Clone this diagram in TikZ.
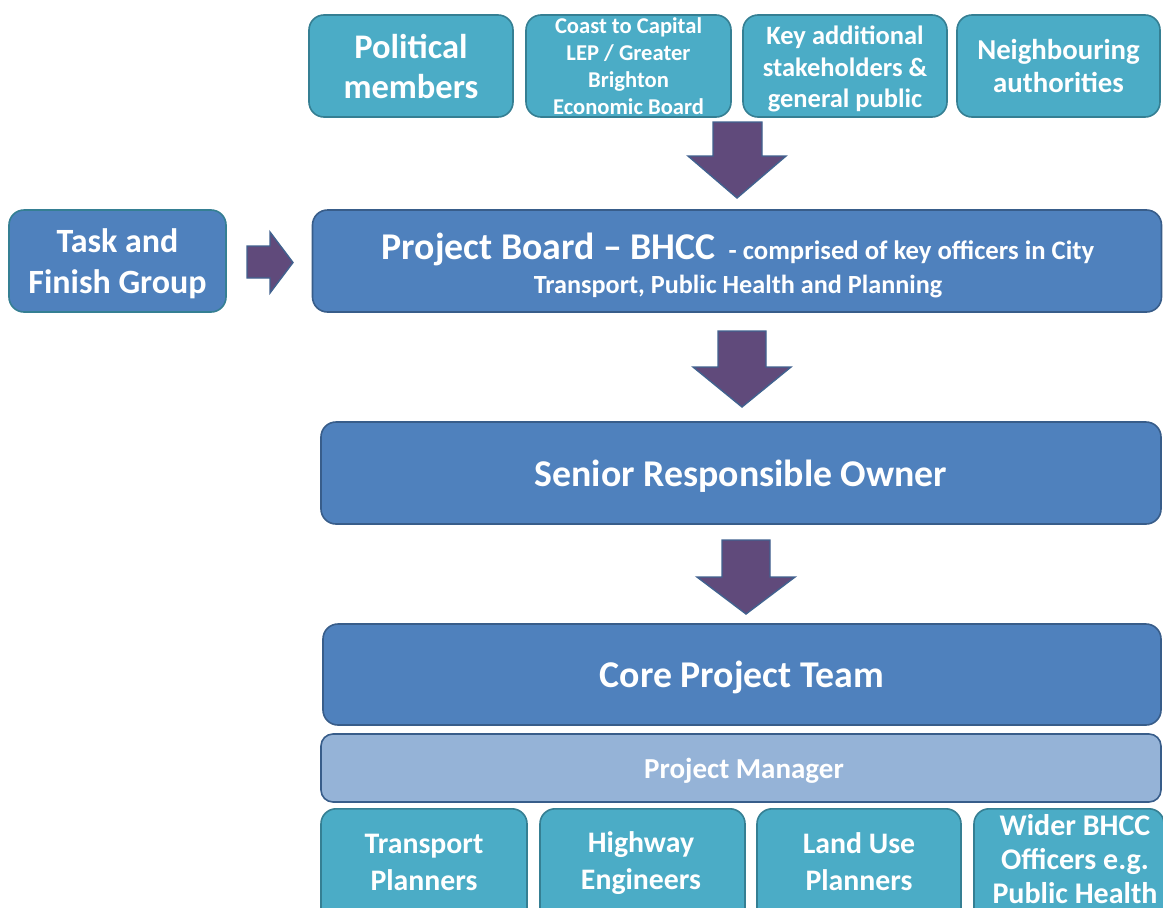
\documentclass[tikz,border=0pt]{standalone}
\usepackage{fontspec}
\setmainfont{Carlito}
\definecolor{tealfill}{HTML}{4BACC6}
\definecolor{tealdraw}{HTML}{357F93}
\definecolor{bluefill}{HTML}{4F81BD}
\definecolor{bluedraw}{HTML}{385D8A}
\definecolor{lightfill}{HTML}{95B3D7}
\definecolor{arrowfill}{HTML}{604A7B}
\definecolor{arrowdraw}{HTML}{41628F}
\newcommand{\fs}[2]{\fontsize{#1}{#2}\selectfont}
\tikzset{
  box/.style={rectangle, rounded corners=15pt, line width=1.6pt, text=white, align=center, inner sep=0pt, font=\bfseries},
  tealbox/.style={box, fill=tealfill, draw=tealdraw},
  bluebox/.style={box, fill=bluefill, draw=bluedraw},
  lightbox/.style={box, fill=lightfill, draw=bluedraw, rounded corners=12pt},
  label/.style={text=white, align=center, inner sep=0pt},
  blockarrow/.style={fill=arrowfill, draw=arrowdraw, line width=1.4pt, line join=miter},
}
\begin{document}
\begin{tikzpicture}[x=1pt,y=-1pt]
\path[use as bounding box, clip] (0,0) rectangle (1163,908);
\fill[white] (0,0) rectangle (1163,908);
% top row
\node[tealbox, minimum width=204pt, minimum height=102pt, font=\bfseries\fs{34.5}{40}] (pol) at (411,66) {Political\\members};
\node[tealbox, minimum width=205pt, minimum height=102pt, font=\bfseries\fs{22.6}{27}] (lep) at (628.5,66) {Coast to Capital\\LEP / Greater\\Brighton\\Economic Board};
\node[tealbox, minimum width=204pt, minimum height=102pt] (key) at (845,66) {};
\node[label, font=\bfseries\fs{26.5}{31.5}] (keyt) at (845,69) {Key additional\\stakeholders \&\\general public};
\node[tealbox, minimum width=203pt, minimum height=102pt, font=\bfseries\fs{28.8}{33}] (nei) at (1058.5,66) {Neighbouring\\authorities};
% left
\node[bluebox, draw=tealdraw, minimum width=217pt, minimum height=102pt] (task) at (117.5,261) {};
\node[label, font=\bfseries\fs{34}{41}] (taskt) at (117.5,264) {Task and\\Finish Group};
% project board
\node[bluebox, minimum width=849pt, minimum height=102pt] (board) at (737,261) {};
\node[label, anchor=base, font=\bfseries] (boardl1) at (738,259) {{\fs{37.8}{40}Project Board -- BHCC}\hspace{13pt}{\fs{26.7}{30}- comprised of key officers in City}};
\node[label, anchor=base, font=\bfseries\fs{26.2}{30}] (boardl2) at (738,293) {Transport, Public Health and Planning};
% senior
\node[bluebox, minimum width=840pt, minimum height=102pt] (sro) at (741,473) {};
\node[label, font=\bfseries\fs{37.8}{42}] (srot) at (741,476) {Senior Responsible Owner};
% core
\node[bluebox, minimum width=838pt, minimum height=101pt] (core) at (742,674.5) {};
\node[label, font=\bfseries\fs{37.8}{42}] (coret) at (742,677.5) {Core Project Team};
% project manager
\node[lightbox, minimum width=840pt, minimum height=68pt] (pm) at (741,768) {};
\node[label, font=\bfseries\fs{29}{34}] (pmt) at (744,771) {Project Manager};
% bottom row
\node[tealbox, minimum width=206pt, minimum height=118pt, anchor=north] (tp) at (424,808) {};
\node[label, font=\bfseries\fs{29.8}{37}] (tpt) at (424,862) {Transport\\Planners};
\node[tealbox, minimum width=205pt, minimum height=118pt, anchor=north] (he) at (642.5,808) {};
\node[label, font=\bfseries\fs{29.8}{37}] (het) at (641,863) {Highway\\Engineers};
\node[tealbox, minimum width=204pt, minimum height=118pt, anchor=north] (lu) at (859,808) {};
\node[label, font=\bfseries\fs{29.8}{37}] (lut) at (859,862) {Land Use\\Planners};
\node[tealbox, minimum width=190pt, minimum height=118pt, anchor=north] (wb) at (1069,808) {};
\node[label, font=\bfseries\fs{30}{34}] (wbt) at (1075,859) {Wider BHCC\\Officers e.g.\\Public Health};
% arrows
\draw[blockarrow] (713,122) -- (762,122) -- (762,156) -- (786,156) -- (737,198) -- (688,156) -- (713,156) -- cycle;
\draw[blockarrow] (718,331) -- (766,331) -- (766,367) -- (791,367) -- (742,407) -- (693,367) -- (718,367) -- cycle;
\draw[blockarrow] (722,540) -- (770,540) -- (770,577) -- (795,577) -- (746,614) -- (697,577) -- (722,577) -- cycle;
\draw[blockarrow] (247,246) -- (270,246) -- (270,232) -- (293,262.5) -- (270,293) -- (270,278) -- (247,278) -- cycle;
\end{tikzpicture}
\end{document}
